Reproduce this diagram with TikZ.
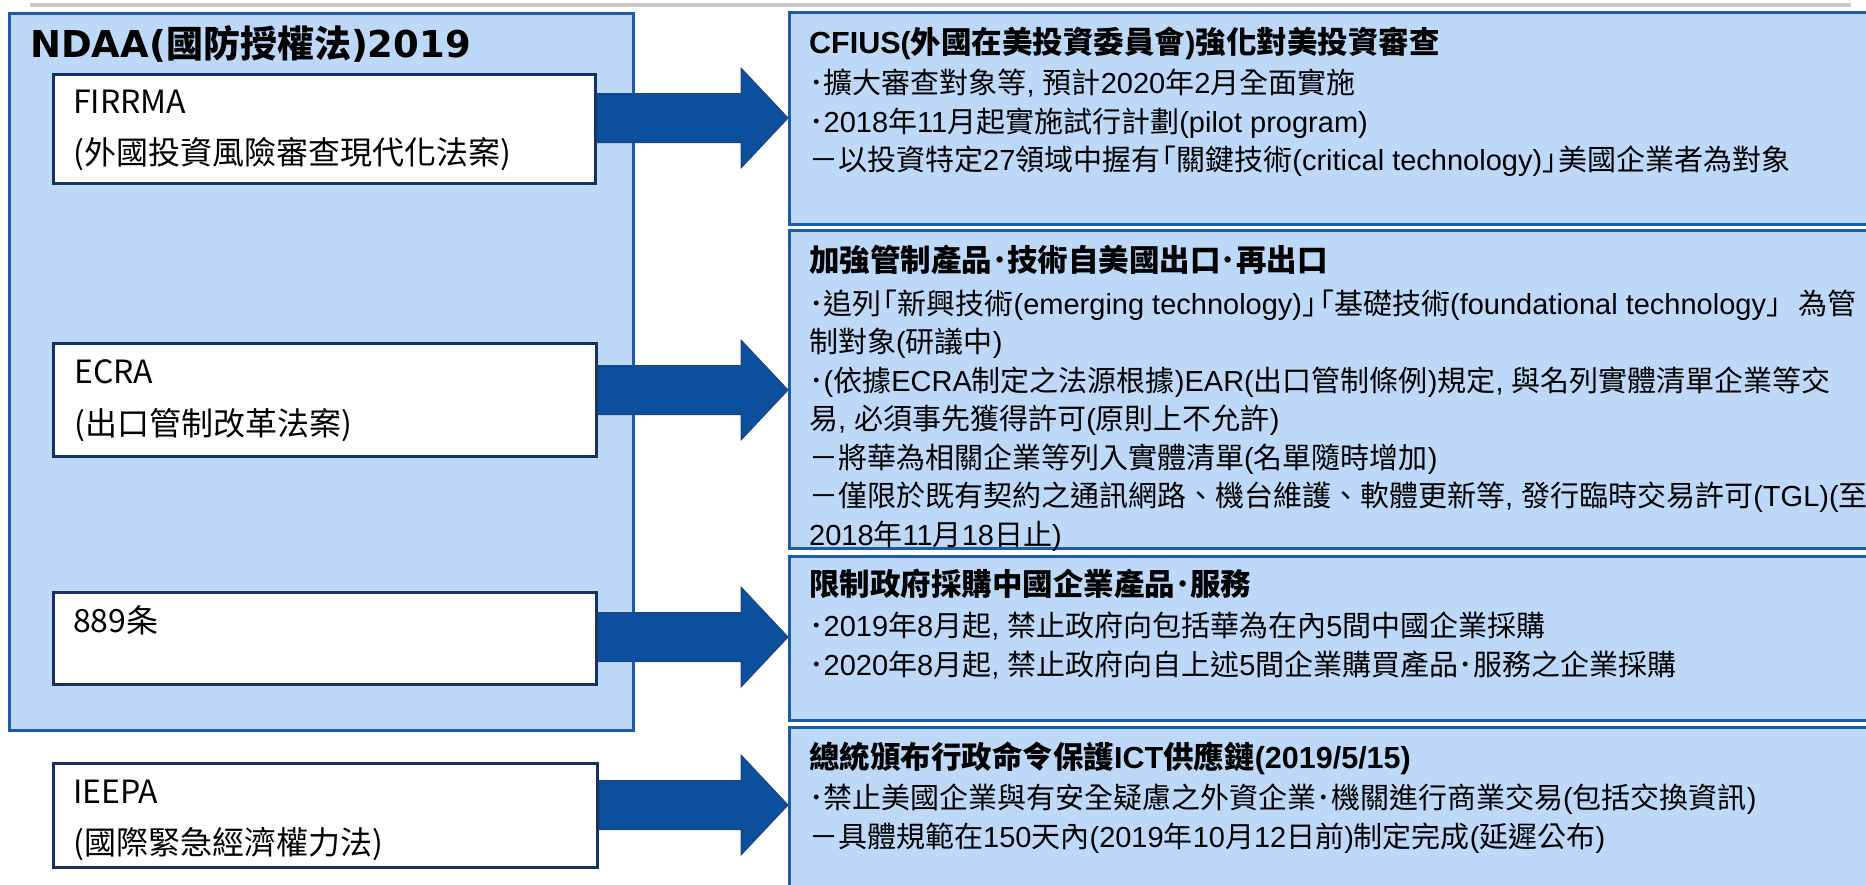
\documentclass[tikz,border=0pt]{standalone}
\usepackage{fontspec}
\setmainfont{Noto Sans CJK TC}
\newfontfamily\arialf{Liberation Sans}
\newfontfamily\verdf{DejaVu Sans}
\newcommand\ar[1]{{\arialf #1}}
\newcommand\vd[1]{{\verdf #1}}
\newcommand\lbk{\hspace{-0.45em}「}
\newcommand\rbk{」\hspace{-0.45em}}
\usetikzlibrary{calc}
\definecolor{boxfill}{RGB}{190,217,247}
\definecolor{boxline}{RGB}{28,92,170}
\definecolor{navyline}{RGB}{22,50,100}
\definecolor{arrowfill}{RGB}{12,79,156}
\definecolor{arrowline}{RGB}{30,68,130}
\definecolor{grayline}{RGB}{200,200,200}
\tikzset{
  bluebox/.style={draw=boxline, line width=3pt, fill=boxfill, anchor=north west, inner sep=0pt},
  whitebox/.style={draw=navyline, line width=3pt, fill=white, anchor=north west, inner sep=0pt},
  lbl/.style={anchor=base west, inner sep=0pt, font=\fontsize{32}{32}\selectfont},
  body/.style={anchor=base west, inner sep=0pt, font=\fontsize{29}{29}\selectfont},
  ttl/.style={anchor=base west, inner sep=0pt, font=\fontsize{30.5}{30.5}\selectfont\bfseries},
  blockarrow/.style={fill=arrowfill, draw=arrowline, line width=1pt, line join=miter,
    to path={let \p1=(\tikztostart), \p2=(\tikztotarget) in
      (\x1,\y1+24.5pt) -- (\x2-47pt,\y1+24.5pt) -- (\x2-47pt,\y1+50pt) -- (\x2,\y1)
      -- (\x2-47pt,\y1-50pt) -- (\x2-47pt,\y1-24.5pt) -- (\x1,\y1-24.5pt) -- cycle}}
}
\begin{document}
\begin{tikzpicture}[x=1pt,y=-1pt]
\useasboundingbox (0,0) rectangle (1866,884);
% top gray rule
\coordinate (g1) at (30,5);
\coordinate (g2) at (1851,5);
\draw[grayline, line width=4pt] (g1) -- (g2);

% left group
\node[bluebox, minimum width=624pt, minimum height=717pt] (ndaa) at (8,12) {};
\node[anchor=base west, inner sep=0pt, font=\fontsize{37}{37}\selectfont\bfseries] (ndaat) at (30,57) {\vd{NDAA(}國防授權法\vd{)2019}};

\node[whitebox, minimum width=542pt, minimum height=109pt] (firrma) at (52,73) {};
\node[lbl] (firrma1) at (73,113) {FIRRMA};
\node[lbl] (firrma2) at (73,164) {(外國投資風險審查現代化法案)};

\node[whitebox, minimum width=543pt, minimum height=113pt] (ecra) at (52,342) {};
\node[lbl] (ecra1) at (74,383) {ECRA};
\node[lbl] (ecra2) at (74,435) {(出口管制改革法案)};

\node[whitebox, minimum width=543pt, minimum height=92pt] (s889) at (52,591) {};
\node[lbl] (s8891) at (73,632) {889条};

\node[whitebox, minimum width=544pt, minimum height=104pt] (ieepa) at (52,762) {};
\node[lbl] (ieepa1) at (73,803) {IEEPA};
\node[lbl] (ieepa2) at (73,854) {(國際緊急經濟權力法)};

% right boxes
\node[bluebox, minimum width=1092pt, minimum height=212pt] (cfius) at (788,11) {};
\node[ttl] (c0) at (809,53) {\ar{CFIUS(}外國在美投資委員會\ar{)}強化對美投資審查};
\node[body] (c1) at (809,93) {･擴大審查對象等\ar{, }預計\ar{2020}年\ar{2}月全面實施};
\node[body] (c2) at (809,132) {･\ar{2018}年\ar{11}月起實施試行計劃\ar{(pilot program)}};
\node[body] (c3) at (809,170) {－以投資特定\ar{27}領域中握有\lbk 關鍵技術\ar{(critical technology)}\rbk 美國企業者為對象};

\node[bluebox, minimum width=1092pt, minimum height=318pt] (exp) at (788,229) {};
\node[ttl] (e0) at (809,271) {加強管制產品･技術自美國出口･再出口};
\node[body] (e1) at (809,314) {･追列\lbk 新興技術\ar{(emerging technology)}\rbk\lbk 基礎技術\ar{(foundational technology}\rbk\ar{ \ }為管};
\node[body] (e2) at (809,352) {制對象\ar{(}研議中\ar{)}};
\node[body] (e3) at (809,391) {･\ar{(}依據\ar{ECRA}制定之法源根據\ar{)EAR(}出口管制條例\ar{)}規定\ar{, }與名列實體清單企業等交};
\node[body] (e4) at (809,429) {易\ar{, }必須事先獲得許可\ar{(}原則上不允許\ar{)}};
\node[body] (e5) at (809,468) {－將華為相關企業等列入實體清單\ar{(}名單隨時增加\ar{)}};
\node[body] (e6) at (809,506) {－僅限於既有契約之通訊網路、機台維護、軟體更新等\ar{, }發行臨時交易許可\ar{(TGL)(}至};
\node[body] (e7) at (809,545) {\ar{2018}年\ar{11}月\ar{18}日止\ar{)}};

\node[bluebox, minimum width=1092pt, minimum height=164pt] (gov) at (788,555) {};
\node[ttl] (v0) at (809,595) {限制政府採購中國企業產品･服務};
\node[body] (v1) at (809,636) {･\ar{2019}年\ar{8}月起\ar{, }禁止政府向包括華為在內\ar{5}間中國企業採購};
\node[body] (v2) at (809,675) {･\ar{2020}年\ar{8}月起\ar{, }禁止政府向自上述\ar{5}間企業購買產品･服務之企業採購};

\node[bluebox, minimum width=1092pt, minimum height=180pt] (ict) at (788,726) {};
\node[ttl] (i0) at (809,768) {總統頒布行政命令保護\ar{ICT}供應鏈\ar{(2019/5/15)}};
\node[body] (i1) at (809,808) {･禁止美國企業與有安全疑慮之外資企業･機關進行商業交易\ar{(}包括交換資訊\ar{)}};
\node[body] (i2) at (809,847) {－具體規範在\ar{150}天內\ar{(2019}年\ar{10}月\ar{12}日前\ar{)}制定完成\ar{(}延遲公布\ar{)}};

% arrows
\coordinate (a1) at (0,118);
\coordinate (a2) at (0,390);
\coordinate (a3) at (0,637);
\coordinate (a4) at (0,805);
\draw[blockarrow] (firrma.east |- a1) to (cfius.west |- a1);
\draw[blockarrow] (ecra.east |- a2) to (exp.west |- a2);
\draw[blockarrow] (s889.east |- a3) to (gov.west |- a3);
\draw[blockarrow] (ieepa.east |- a4) to (ict.west |- a4);
\end{tikzpicture}
\end{document}
